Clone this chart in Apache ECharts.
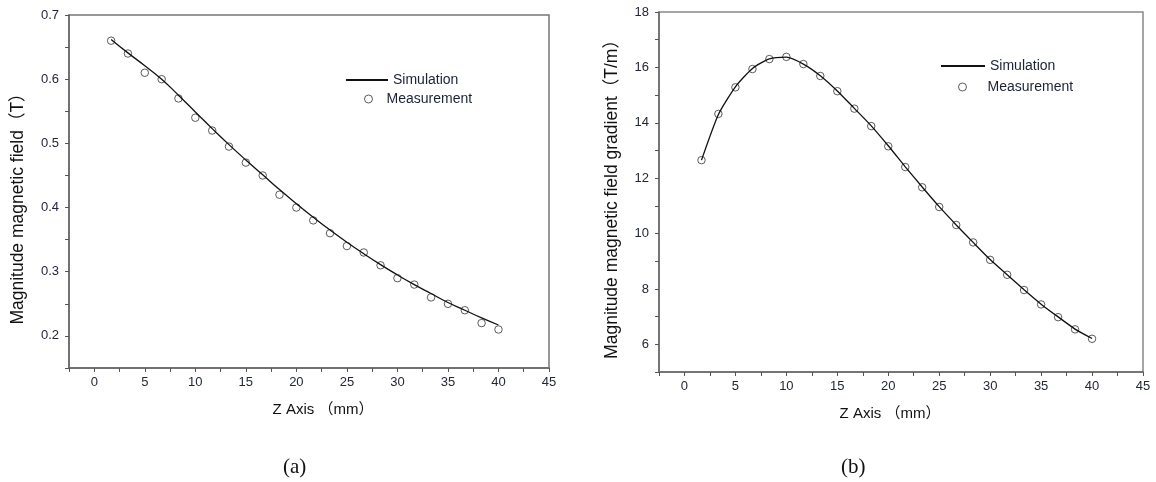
<!DOCTYPE html>
<html>
<head>
<meta charset="utf-8">
<script src="https://cdn.jsdelivr.net/npm/echarts@6/dist/echarts.min.js"></script>
<style>
  html, body { margin: 0; padding: 0; background: #fff; }
  #main { width: 1156px; height: 482px; }
</style>
</head>
<body>
<div id="main"></div>
<script>
// Z 轴位置 (mm)
const zPos = [1.67, 3.33, 5, 6.67, 8.33, 10, 11.67, 13.33, 15, 16.67, 18.33, 20,
  21.67, 23.33, 25, 26.67, 28.33, 30, 31.67, 33.33, 35, 36.67, 38.33, 40];

// (a) 磁场强度 (T)
const fieldSim = [0.662, 0.641, 0.621, 0.600, 0.575, 0.549, 0.523, 0.498, 0.474, 0.451, 0.428, 0.406,
  0.385, 0.365, 0.346, 0.328, 0.311, 0.295, 0.280, 0.266, 0.252, 0.240, 0.228, 0.217];
const fieldMeas = [0.66, 0.64, 0.61, 0.60, 0.57, 0.54, 0.52, 0.495, 0.47, 0.45, 0.42, 0.40,
  0.38, 0.36, 0.34, 0.33, 0.31, 0.29, 0.28, 0.26, 0.25, 0.24, 0.22, 0.21];

// (b) 磁场梯度 (T/m)
const gradSim = [12.65, 14.30, 15.30, 15.96, 16.31, 16.37, 16.12, 15.70, 15.15, 14.52, 13.89, 13.17,
  12.41, 11.68, 10.97, 10.31, 9.68, 9.06, 8.51, 7.97, 7.45, 6.99, 6.55, 6.21];
const gradMeas = [12.65, 14.32, 15.28, 15.94, 16.30, 16.38, 16.12, 15.69, 15.14, 14.51, 13.88, 13.15,
  12.40, 11.67, 10.96, 10.31, 9.68, 9.05, 8.51, 7.96, 7.44, 6.98, 6.54, 6.20];

const pair = (xs, ys) => xs.map((x, i) => [x, ys[i]]);

const font = "'Liberation Sans', Arial, 'Noto Sans CJK SC', sans-serif";
const labelColor = "#222836";
const lineColor = "#666";

function xAxisCfg(gridIndex, pad) {
  return {
    type: "value",
    gridIndex: gridIndex,
    min: -2.5,
    max: 45,
    interval: 2.5,
    name: "Z Axis （mm）",
    nameLocation: "middle",
    nameGap: 34,
    nameTextStyle: { fontFamily: font, fontSize: 15, color: "#111", padding: pad },
    splitLine: { show: false },
    axisLine: { onZero: false, lineStyle: { color: lineColor, width: 1.5 } },
    axisTick: { length: 4, lineStyle: { color: "#555" } },
    axisLabel: {
      margin: 8,
      fontFamily: font,
      fontSize: 13,
      color: labelColor,
      formatter: (v) => (v % 5 === 0 ? String(v) : ""),
    },
  };
}

function yAxisCfg(gridIndex, opt) {
  return {
    type: "value",
    gridIndex: gridIndex,
    min: opt.min,
    max: opt.max,
    interval: opt.interval,
    name: opt.name,
    nameLocation: "middle",
    nameGap: opt.nameGap,
    nameTextStyle: { fontFamily: font, fontSize: 17.5, color: "#111", padding: opt.namePad },
    splitLine: { show: false },
    axisLine: { show: true, onZero: false, lineStyle: { color: lineColor, width: 1.5 } },
    axisTick: { length: 4, lineStyle: { color: "#555" } },
    axisLabel: {
      margin: 10,
      fontFamily: font,
      fontSize: 13,
      color: labelColor,
      formatter: opt.formatter,
    },
  };
}

// 图例样式
const legendText = { fontFamily: font, fontSize: 14, color: "#1a2233" };
const lineIcon = { icon: "rect", itemStyle: { color: "#111" } };
const dotIcon = { icon: "circle", itemStyle: { color: "#fff", borderColor: "#333", borderWidth: 1 } };

const myChart = echarts.init(document.getElementById("main"));

const option = {
  backgroundColor: "#fff",
  animation: false,
  // 图注 (a) (b)
  title: [
    { text: "(a)", left: 278, top: 452, textStyle: { fontFamily: "'Liberation Serif', 'Times New Roman', serif", fontSize: 21, fontWeight: "normal", color: "#111" } },
    { text: "(b)", left: 836, top: 452, textStyle: { fontFamily: "'Liberation Serif', 'Times New Roman', serif", fontSize: 21, fontWeight: "normal", color: "#111" } },
  ],
  grid: [
    { left: 69, top: 15, width: 480, height: 353, show: true, borderColor: "#777", borderWidth: 1.5 },
    { left: 659, top: 12, width: 484, height: 360, show: true, borderColor: "#888", borderWidth: 1.5 },
  ],
  legend: [
    {
      left: 341, top: 68, itemWidth: 42, itemHeight: 2, selectedMode: false,
      textStyle: legendText,
      data: [Object.assign({ name: "Simulation" }, lineIcon)],
    },
    {
      left: 359, top: 87, itemWidth: 26, itemHeight: 8, selectedMode: false,
      textStyle: legendText,
      data: [Object.assign({ name: "Measurement" }, dotIcon)],
    },
    {
      left: 936, top: 54, itemWidth: 44, itemHeight: 2, selectedMode: false,
      textStyle: legendText,
      data: [Object.assign({ name: "Simulation " }, lineIcon)],
    },
    {
      left: 953, top: 75, itemWidth: 26, itemHeight: 8, selectedMode: false,
      textStyle: Object.assign({ padding: [0, 0, 0, 7] }, legendText),
      data: [Object.assign({ name: "Measurement " }, dotIcon)],
    },
  ],
  xAxis: [xAxisCfg(0, [0, 0, 0, 28]), xAxisCfg(1, [0, 22, 0, 0])],
  yAxis: [
    yAxisCfg(0, {
      min: 0.15, max: 0.7, interval: 0.05, nameGap: 42, namePad: [0, 26, 0, 0],
      name: "Magnitude magnetic field（T）",
      formatter: (v) => (Math.abs(v * 10 - Math.round(v * 10)) < 1e-6 ? v.toFixed(1) : ""),
    }),
    yAxisCfg(1, {
      min: 5, max: 18, interval: 1, nameGap: 38, namePad: [0, 6, 0, 0],
      name: "Magnitude magnetic field gradient（T/m）",
      formatter: (v) => (v % 2 === 0 ? String(v) : ""),
    }),
  ],
  series: [
    {
      name: "Simulation", type: "line", xAxisIndex: 0, yAxisIndex: 0,
      smooth: true, symbol: "none",
      lineStyle: { color: "#111", width: 1.3 },
      itemStyle: { color: "#111" },
      data: pair(zPos, fieldSim),
    },
    {
      name: "Measurement", type: "scatter", xAxisIndex: 0, yAxisIndex: 0,
      symbol: "circle", symbolSize: 7.5,
      itemStyle: { color: "#fff", borderColor: "#333", borderWidth: 1 },
      data: pair(zPos, fieldMeas),
    },
    {
      name: "Simulation ", type: "line", xAxisIndex: 1, yAxisIndex: 1,
      smooth: 0.2, symbol: "none",
      lineStyle: { color: "#111", width: 1.3 },
      itemStyle: { color: "#111" },
      data: pair(zPos, gradSim),
    },
    {
      name: "Measurement ", type: "scatter", xAxisIndex: 1, yAxisIndex: 1,
      symbol: "circle", symbolSize: 7.5,
      itemStyle: { color: "#fff", borderColor: "#333", borderWidth: 1 },
      data: pair(zPos, gradMeas),
    },
  ],
};

myChart.setOption(option);
</script>
</body>
</html>
